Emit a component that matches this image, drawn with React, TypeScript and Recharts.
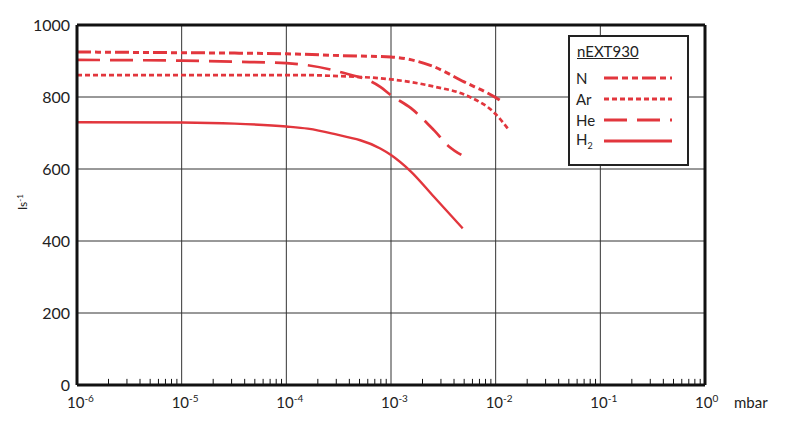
import React from "react";
import {
  LineChart,
  Line,
  XAxis,
  YAxis,
  CartesianGrid,
  ReferenceLine,
  Legend,
} from "recharts";

// pressure in mbar, pumping speed in l/s
const nPressure = [1e-6, 1e-5, 3.2e-5, 1e-4, 1.38e-4, 3.2e-4, 1e-3, 2.57e-3, 5e-3, 9.8e-3, 1.17e-2];
const nSpeed = [925, 923, 922, 920, 919, 915, 911, 884, 842, 800, 786];

const arPressure = [1e-6, 1e-5, 1e-4, 1.38e-4, 3.2e-4, 1e-3, 2.57e-3, 5.4e-3, 9.8e-3, 1.35e-2];
const arSpeed = [861, 861, 861, 861, 858, 849, 829, 803, 755, 707];

const hePressure = [1e-6, 1e-5, 3.2e-5, 1e-4, 3.2e-4, 7.9e-4, 1e-3, 1.55e-3, 2.57e-3, 3.6e-3, 4.7e-3];
const heSpeed = [903, 901, 898, 894, 870, 828, 805, 769, 708, 662, 639];

const h2Pressure = [1e-6, 1e-5, 3.2e-5, 1e-4, 1.6e-4, 2.7e-4, 7.9e-4, 1e-3, 1.55e-3, 2.57e-3, 4.84e-3];
const h2Speed = [730, 729, 726, 718, 712, 699, 657, 639, 593, 523, 435];

const xTicks = [1e-6, 1e-5, 1e-4, 1e-3, 1e-2, 1e-1, 1];
const yTicks = [0, 200, 400, 600, 800, 1000];
const minorSteps = [2, 3, 4, 5, 6, 7, 8, 9];
const minorTicks = xTicks.slice(0, -1).flatMap((d) => minorSteps.map((m) => m * d));
// invisible helper lines; without them recharts skipped the minor ticks past 1e-2
const helperX = [0.005, 0.05, 0.3];

const RED = "#e2363d";
const FONT = "Lato, 'Open Sans', sans-serif";

const series = [
  { name: "N", label: "N", x: nPressure, y: nSpeed, dash: "14 4 6 4 6 4", width: 3 },
  { name: "Ar", label: "Ar", x: arPressure, y: arSpeed, dash: "5 3", width: 2.7 },
  { name: "He", label: "He", x: hePressure, y: heSpeed, dash: "23 10", width: 2.7 },
  { name: "H2", label: "H", x: h2Pressure, y: h2Speed, dash: undefined, width: 2.4 },
];

const toRows = (xs: number[], ys: number[]) => xs.map((p, i) => ({ p, s: ys[i] }));

const XTick = (props: any) => {
  const { x, y, payload } = props;
  const exp = Math.round(Math.log10(payload.value));
  return (
    <g>
      <text x={x - 10} y={y + 23} fontSize={15} fill="#222" fontFamily={FONT}>
        10
        <tspan dy={-6} fontSize={10}>
          {String(exp)}
        </tspan>
      </text>
      {exp === 0 && (
        <text x={x + 29} y={y + 23} fontSize={15} fill="#222" fontFamily={FONT}>
          mbar
        </text>
      )}
    </g>
  );
};

const YLabel = (props: any) => {
  const { viewBox } = props;
  const cx = 27;
  const cy = viewBox.y + viewBox.height / 2 - 3;
  return (
    <text
      x={cx}
      y={cy}
      transform={`rotate(-90 ${cx} ${cy})`}
      textAnchor="middle"
      fontSize={12}
      fill="#222"
      fontFamily={FONT}
    >
      ls
      <tspan dy={-4} fontSize={8}>
        -1
      </tspan>
    </text>
  );
};

const LegendBox = () => (
  <div
    style={{
      width: 117,
      height: 127,
      border: "2px solid #222",
      background: "#fff",
      fontFamily: FONT,
      color: "#222",
      boxSizing: "content-box",
    }}
  >
    <div style={{ fontSize: 15, textDecoration: "underline", padding: "5px 0 0 7px", height: 25 }}>nEXT930</div>
    {series.map((s) => (
      <div key={s.name} style={{ display: "flex", alignItems: "center", height: 21, paddingLeft: 6 }}>
        <span style={{ width: 28, fontSize: 15 }}>
          {s.label}
          {s.name === "H2" && <sub style={{ fontSize: 9 }}>2</sub>}
        </span>
        <svg width={70} height={8}>
          <line x1={0} y1={4} x2={68} y2={4} stroke={RED} strokeWidth={3.2} strokeDasharray={s.dash} />
        </svg>
      </div>
    ))}
  </div>
);

export default function App() {
  return (
    <div style={{ position: "absolute", left: 0, top: 0, width: 800, height: 442, background: "#fff" }}>
      <LineChart width={800} height={442} margin={{ top: 25, right: 95, bottom: 27, left: 17 }}>
        <CartesianGrid stroke="#333" strokeWidth={1} />
        <XAxis
          dataKey="p"
          type="number"
          scale="log"
          domain={[1e-6, 1]}
          ticks={xTicks}
          allowDataOverflow
          height={30}
          tickLine={false}
          tickSize={0}
          tickMargin={0}
          axisLine={{ stroke: "#111", strokeWidth: 3 }}
          tick={<XTick />}
          interval={0}
        />
        <YAxis
          type="number"
          domain={[0, 1000]}
          ticks={yTicks}
          width={60}
          tickLine={false}
          tickSize={4}
          tickMargin={3}
          axisLine={{ stroke: "#111", strokeWidth: 3 }}
          tick={{ fontSize: 16, fill: "#222", fontFamily: FONT }}
          interval={0}
          label={<YLabel />}
        />
        {minorTicks.map((v) => (
          <ReferenceLine
            key={v}
            ifOverflow="visible"
            segment={[
              { x: v, y: 0 },
              { x: v, y: 17 },
            ]}
            stroke="#111"
            strokeWidth={1}
          />
        ))}
        {helperX.map((v) => (
          <ReferenceLine key={`h${v}`} x={v} stroke="#fff" strokeOpacity={0} strokeWidth={2} ifOverflow="visible" />
        ))}
        <ReferenceLine y={1000} stroke="#111" strokeWidth={3} ifOverflow="visible" />
        <ReferenceLine x={1} stroke="#111" strokeWidth={3} ifOverflow="visible" />
        {series.map((s) => (
          <Line
            key={s.name}
            name={s.name}
            data={toRows(s.x, s.y)}
            dataKey="s"
            type="monotone"
            stroke={RED}
            strokeWidth={s.width}
            strokeDasharray={s.dash}
            dot={false}
            activeDot={false}
            isAnimationActive={false}
          />
        ))}
        <Legend
          layout="horizontal"
          verticalAlign="middle"
          align="center"
          content={<LegendBox />}
          wrapperStyle={{ position: "absolute", left: 568, top: 35, width: 121, height: 131 }}
        />
      </LineChart>
    </div>
  );
}
